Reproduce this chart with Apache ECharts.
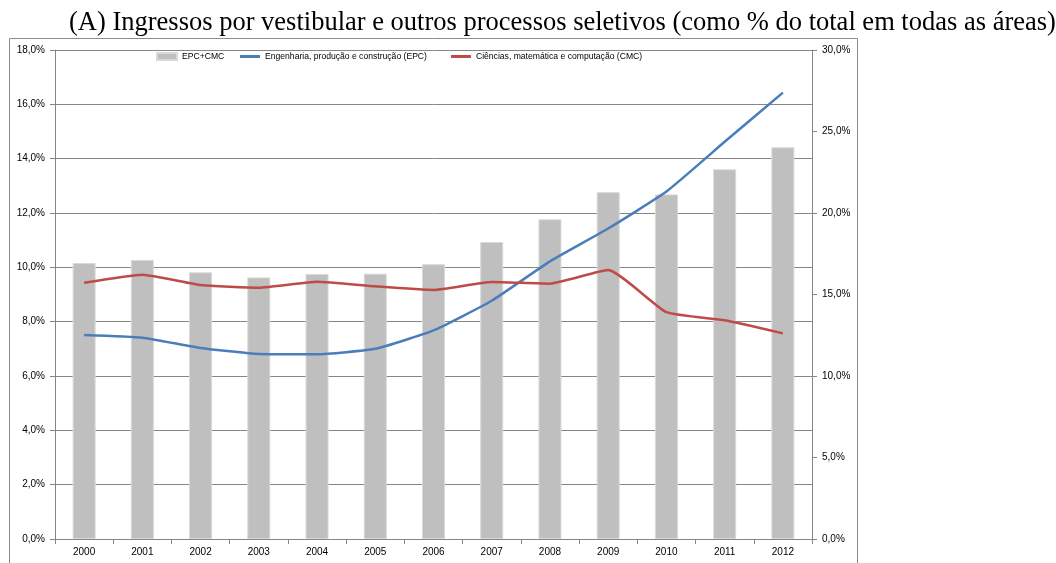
<!DOCTYPE html>
<html>
<head>
<meta charset="utf-8">
<script src="https://cdn.jsdelivr.net/npm/echarts@6/dist/echarts.min.js"></script>
<style>
    html, body {margin: 0; padding: 0; background: #fff;}
    #container {width: 1056px; height: 563px;}
</style>
</head>
<body>
<div id="container"></div>
<script>
var years = ['2000', '2001', '2002', '2003', '2004', '2005', '2006', '2007', '2008', '2009', '2010', '2011', '2012'];
// EPC+CMC (eixo direito)
var somaData = [16.93, 17.12, 16.36, 16.05, 16.26, 16.28, 16.86, 18.22, 19.61, 21.28, 21.14, 22.68, 24.03];
// Engenharia, produção e construção (eixo esquerdo)
var epcData = [7.51, 7.41, 7.03, 6.81, 6.80, 7.00, 7.68, 8.77, 10.22, 11.43, 12.79, 14.62, 16.43];
// Ciências, matemática e computação (eixo esquerdo)
var cmcData = [9.43, 9.73, 9.35, 9.25, 9.47, 9.30, 9.17, 9.46, 9.40, 9.90, 8.35, 8.05, 7.57];

var labelFont = 'Liberation Sans, sans-serif';

function pct(v) {
    return v.toFixed(1).replace('.', ',') + '%';
}

(function () {
    var dom = document.getElementById('container');
    var myChart = echarts.init(dom);
    var option = {
        animation: false,
        backgroundColor: '#fff',
        title: {
            text: '(A) Ingressos por vestibular e outros processos seletivos (como % do total em todas as áreas)',
            left: 64,
            top: 5,
            textStyle: {
                fontFamily: 'Liberation Serif, Times New Roman, serif',
                fontWeight: 'normal',
                fontSize: 26.5,
                color: '#000'
            }
        },
        graphic: [{
            type: 'rect',
            shape: {x: 9.5, y: 38.5, width: 848, height: 540},
            style: {fill: 'none', stroke: '#8c8c8c', lineWidth: 1},
            silent: true,
            z: -1
        }],
        legend: [{
            left: 156,
            top: 52,
            padding: 0,
            itemWidth: 20,
            itemHeight: 7,
            icon: 'rect',
            textStyle: {fontFamily: labelFont, fontSize: 8.6, color: '#000'},
            data: ['EPC+CMC']
        }, {
            left: 240,
            top: 52,
            padding: 0,
            itemGap: 24,
            itemWidth: 20,
            itemHeight: 3,
            icon: 'rect',
            textStyle: {fontFamily: labelFont, fontSize: 8.6, color: '#000'},
            data: ['Engenharia, produção e construção (EPC)', 'Ciências, matemática e computação (CMC)']
        }],
        grid: {left: 55, right: 244, top: 50, bottom: 24, containLabel: false},
        xAxis: [{
            type: 'category',
            data: years,
            axisLine: {lineStyle: {color: '#868686'}},
            axisTick: {show: true, inside: false, length: 5, alignWithLabel: false, lineStyle: {color: '#868686'}},
            axisLabel: {fontFamily: labelFont, fontSize: 10, color: '#000', margin: 8}
        }],
        yAxis: [{
            type: 'value',
            min: 0,
            max: 18,
            interval: 2,
            position: 'left',
            axisLine: {show: true, lineStyle: {color: '#868686'}},
            axisTick: {show: true, length: 5, lineStyle: {color: '#868686'}},
            splitLine: {show: true, lineStyle: {color: '#868686', width: 1}},
            axisLabel: {fontFamily: labelFont, fontSize: 10, color: '#000', margin: 10, formatter: pct}
        }, {
            type: 'value',
            min: 0,
            max: 30,
            interval: 5,
            position: 'right',
            axisLine: {show: true, lineStyle: {color: '#868686'}},
            axisTick: {show: true, length: 5, lineStyle: {color: '#868686'}},
            splitLine: {show: false},
            axisLabel: {fontFamily: labelFont, fontSize: 10, color: '#000', margin: 10, formatter: pct}
        }],
        series: [{
            name: 'EPC+CMC',
            type: 'bar',
            yAxisIndex: 1,
            barWidth: 23,
            itemStyle: {color: '#bfbfbf', borderColor: '#d9d9d9', borderWidth: 1},
            data: somaData
        }, {
            name: 'Engenharia, produção e construção (EPC)',
            type: 'line',
            yAxisIndex: 0,
            symbol: 'none',
            smooth: 0.15,
            lineStyle: {color: '#4a7ebb', width: 2.5},
            itemStyle: {color: '#4a7ebb'},
            data: epcData,
            z: 3
        }, {
            name: 'Ciências, matemática e computação (CMC)',
            type: 'line',
            yAxisIndex: 0,
            symbol: 'none',
            smooth: 0.15,
            lineStyle: {color: '#be4b48', width: 2.5},
            itemStyle: {color: '#be4b48'},
            data: cmcData,
            z: 3
        }]
    };
    myChart.setOption(option, true);
})();
</script>
</body>
</html>
